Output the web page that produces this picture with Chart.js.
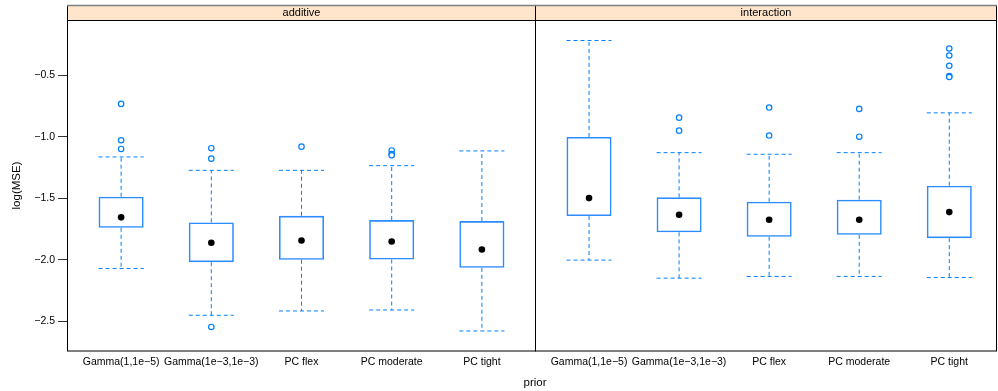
<!DOCTYPE html>
<html>
<head>
<meta charset="utf-8">
<script src="https://cdn.jsdelivr.net/npm/chart.js@4"></script>
<style>
  body { margin: 0; background: #fff; }
  #wrap { position: relative; width: 998px; height: 391px; background: #fff; font-family: "Liberation Sans", Arial, sans-serif; }
  .panel { position: absolute; top: 0; height: 391px; }
  #xlab { position: absolute; left: 435px; top: 376px; width: 200px; text-align: center; font-size: 11.5px; color: #000; }
</style>
</head>
<body>
<div id="wrap">
  <div class="panel" style="left:0;width:536px"><canvas id="addChart" width="536" height="391"></canvas></div>
  <div class="panel" style="left:535px;width:463px"><canvas id="intChart" width="463" height="391"></canvas></div>
  <div id="xlab">prior</div>
</div>
<script>
const categories = ["Gamma(1,1e\u22125)", "Gamma(1e\u22123,1e\u22123)", "PC flex", "PC moderate", "PC tight"];
const yTicks = [-0.5, -1.0, -1.5, -2.0, -2.5];
const yMin = -2.743;
const yMax = -0.048;

// additive panel
const addQ1 = [-1.740, -2.020, -2.000, -1.998, -2.066];
const addQ3 = [-1.487, -1.696, -1.642, -1.677, -1.685];
const addMed = [-1.655, -1.862, -1.843, -1.851, -1.916];
const addLo = [-2.071, -2.452, -2.417, -2.409, -2.580];
const addHi = [-1.163, -1.272, -1.272, -1.234, -1.114];
const addOut = [[-0.731, -1.027, -1.098], [-1.092, -1.177, -2.547], [-1.079], [-1.11, -1.14, -1.15], []];

// interaction panel
const intQ1 = [-1.644, -1.777, -1.813, -1.797, -1.824];
const intQ3 = [-1.000, -1.492, -1.528, -1.511, -1.397];
const intMed = [-1.498, -1.634, -1.674, -1.674, -1.612];
const intLo = [-2.003, -2.150, -2.136, -2.136, -2.145];
const intHi = [-0.215, -1.128, -1.141, -1.128, -0.804];
const intOut = [[], [-0.843, -0.949], [-0.761, -0.989], [-0.772, -0.998], [-0.280, -0.337, -0.421, -0.505, -0.512]];

const FONT = "'Liberation Sans', Arial, sans-serif";
const BLUE = "#0080ff";
const HALF = 0.25; // half box width in x units

// strip on top + black frame round the panel
const panelFrame = {
  id: "panelFrame",
  beforeDraw(chart, args, opts) {
    const { ctx, chartArea: a } = chart;
    ctx.save();
    ctx.fillStyle = "#ffe5cc";
    ctx.fillRect(a.left, 5, a.right - a.left, a.top - 5);
    ctx.fillStyle = "#000";
    ctx.font = "11px " + FONT;
    ctx.textAlign = "center";
    ctx.textBaseline = "middle";
    ctx.fillText(opts.label, (a.left + a.right) / 2, (a.top + 5) / 2 + 0.5);
    ctx.restore();
  },
  afterDraw(chart) {
    const { ctx, chartArea: a } = chart;
    ctx.save();
    ctx.strokeStyle = "#000";
    ctx.lineWidth = 1;
    ctx.strokeRect(a.left + 0.5, 5.5, a.right - a.left - 1, a.bottom - 5.5);
    ctx.beginPath();
    ctx.moveTo(a.left, a.top + 0.5);
    ctx.lineTo(a.right, a.top + 0.5);
    ctx.stroke();
    ctx.strokeStyle = "#808080";
    ctx.lineWidth = 1.5;
    ctx.beginPath();
    ctx.moveTo(a.left, 5.5);
    ctx.lineTo(a.right, 5.5);
    ctx.stroke();
    ctx.restore();
  },
};

function makePanel(el, label, q1, q3, med, lo, hi, out, showY, xMax, padRight) {
  const boxes = categories.map((c, i) => ({ x: i + 1, y: [q1[i], q3[i]] }));
  const whiskers = [];
  categories.forEach((c, i) => {
    const x = i + 1;
    whiskers.push({ x: x, y: q3[i] }, { x: x, y: hi[i] }, { x: x, y: null });
    whiskers.push({ x: x - HALF, y: hi[i] }, { x: x + HALF, y: hi[i] }, { x: x, y: null });
    whiskers.push({ x: x, y: q1[i] }, { x: x, y: lo[i] }, { x: x, y: null });
    whiskers.push({ x: x - HALF, y: lo[i] }, { x: x + HALF, y: lo[i] }, { x: x, y: null });
  });
  const outliers = [];
  out.forEach((list, i) => list.forEach((v) => outliers.push({ x: i + 1, y: v })));
  const medians = med.map((v, i) => ({ x: i + 1, y: v }));

  return new Chart(el, {
    type: "bar",
    data: {
      datasets: [
        {
          type: "bar",
          data: boxes,
          backgroundColor: "rgba(0,0,0,0)",
          borderColor: "#2a8cff",
          borderWidth: 1.6,
          borderSkipped: false,
          barPercentage: 0.5,
          categoryPercentage: 1,
          order: 3,
        },
        {
          type: "line",
          data: whiskers,
          borderColor: BLUE,
          borderWidth: 1,
          borderDash: [4, 3],
          pointRadius: 0,
          spanGaps: false,
          fill: false,
          order: 4,
        },
        {
          type: "scatter",
          data: outliers,
          pointStyle: "circle",
          pointRadius: 2.7,
          borderWidth: 1.2,
          borderColor: BLUE,
          backgroundColor: "#fff",
          order: 2,
        },
        {
          type: "scatter",
          data: medians,
          pointStyle: "circle",
          pointRadius: 3.3,
          borderWidth: 0,
          backgroundColor: "#000",
          order: 1,
        },
      ],
    },
    options: {
      responsive: false,
      animation: false,
      layout: { autoPadding: false, padding: { top: 20, left: 0, right: padRight, bottom: 0 } },
      plugins: {
        legend: { display: false },
        tooltip: { enabled: false },
        panelFrame: { label: label },
      },
      scales: {
        x: {
          type: "linear",
          min: 0.4,
          max: xMax,
          offset: false,
          afterBuildTicks: (s) => {
            s.ticks = categories.map((c, i) => ({ value: i + 1 }));
          },
          ticks: {
            callback: (v) => categories[v - 1] || "",
            autoSkip: false,
            maxRotation: 0,
            minRotation: 0,
            padding: 5,
            color: "#000",
            font: { family: FONT, size: 10.5 },
          },
          grid: { display: false, drawTicks: false },
          border: { display: false },
          afterFit: (s) => {
            s.height = 40;
            s.paddingLeft = 0;
            s.paddingRight = 0;
          },
        },
        y: {
          type: "linear",
          display: showY,
          min: yMin,
          max: yMax,
          beginAtZero: false,
          afterBuildTicks: (s) => {
            s.ticks = yTicks.map((v) => ({ value: v }));
          },
          ticks: {
            callback: (v) => "\u2212" + Math.abs(v).toFixed(1),
            padding: 3,
            color: "#000",
            font: { family: FONT, size: 10.5 },
          },
          grid: { drawOnChartArea: false, drawTicks: true, tickLength: 9, color: "#333" },
          border: { display: false },
          title: {
            display: true,
            text: "log(MSE)",
            color: "#000",
            padding: { top: 10 },
            font: { family: FONT, size: 11.5 },
          },
          afterFit: (s) => {
            s.width = showY ? 67 : 0;
          },
        },
      },
    },
    plugins: [panelFrame],
  });
}

makePanel(document.getElementById("addChart"), "additive", addQ1, addQ3, addMed, addLo, addHi, addOut, true, 5.6, 0);
makePanel(document.getElementById("intChart"), "interaction", intQ1, intQ3, intMed, intLo, intHi, intOut, false, 5.53, 1);
</script>
</body>
</html>
